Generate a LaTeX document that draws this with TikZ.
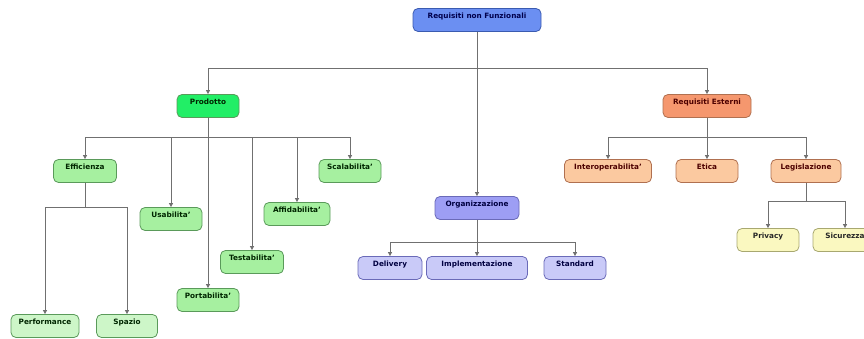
\documentclass[tikz,border=0pt]{standalone}
\usepackage{fontspec}
\setmainfont{DejaVu Sans}
\usetikzlibrary{arrows.meta}

\definecolor{linkgray}{HTML}{707070}
\definecolor{blufill}{HTML}{6B8FF2}
\definecolor{bluline}{HTML}{3B5BB0}
\definecolor{lilafill}{HTML}{9D9EF4}
\definecolor{lilalite}{HTML}{C9CAF8}
\definecolor{lilaline}{HTML}{6A6AB8}
\definecolor{verdefill}{HTML}{22EE66}
\definecolor{verdelite}{HTML}{A6F0A0}
\definecolor{verdepale}{HTML}{CDF6C8}
\definecolor{verdeline}{HTML}{5A9A5A}
\definecolor{arancfill}{HTML}{F5976E}
\definecolor{aranclite}{HTML}{FBC9A0}
\definecolor{arancline}{HTML}{B07050}
\definecolor{giallolite}{HTML}{FAF8C0}
\definecolor{gialloline}{HTML}{A8A870}

\begin{document}
\begin{tikzpicture}[x=1pt,y=-1pt,
    box/.style={draw, rounded corners=5pt, line width=0.8pt, minimum height=23pt,
        inner sep=1pt, text height=6pt, text depth=9pt,
        font=\fontsize{7.3}{9}\selectfont\bfseries},
    blu/.style={box, fill=blufill, draw=bluline, text=blue!30!black},
    lila/.style={box, fill=lilafill, draw=lilaline, text=blue!25!black},
    lilac/.style={box, fill=lilalite, draw=lilaline, text=blue!25!black},
    verde/.style={box, fill=verdefill, draw=verdeline, text=green!15!black},
    verdec/.style={box, fill=verdelite, draw=verdeline, text=green!15!black},
    verdep/.style={box, fill=verdepale, draw=verdeline, text=green!15!black},
    aranc/.style={box, fill=arancfill, draw=arancline, text=red!30!black},
    arancc/.style={box, fill=aranclite, draw=arancline, text=red!30!black},
    gialloc/.style={box, fill=giallolite, draw=gialloline, text=black!85},
    link/.style={draw=linkgray, line width=0.9pt, -{Triangle[length=4pt,width=4pt]}}]

\useasboundingbox (0,0) rectangle (864,339);
\clip (0,0) rectangle (864,339);

% radice
\node [blu, minimum width=128pt] (root) at (477,20) {Requisiti non Funzionali};

\node [verde, minimum width=62pt] (prod) at (208,106) {Prodotto};
\node [aranc, minimum width=88pt] (est) at (707,106) {Requisiti Esterni};
\node [lila, minimum width=84pt] (org) at (477,208) {Organizzazione};

% prodotto
\node [verdec, minimum width=63pt] (eff)  at (85,171)  {Efficienza};
\node [verdec, minimum width=62pt] (usa)  at (171,219) {Usabilita'};
\node [verdec, minimum width=62pt] (port) at (208,300) {Portabilita'};
\node [verdec, minimum width=63pt] (test) at (252,262) {Testabilita'};
\node [verdec, minimum width=66pt] (affi) at (297,214) {Affidabilita'};
\node [verdec, minimum width=62pt] (scal) at (350,171) {Scalabilita'};

\node [verdep, minimum width=68pt] (perf) at (45,326)  {Performance};
\node [verdep, minimum width=61pt] (spaz) at (127,326) {Spazio};

% organizzazione
\node [lilac, minimum width=64pt]  (deliv) at (390,268) {Delivery};
\node [lilac, minimum width=101pt] (impl)  at (477,268) {Implementazione};
\node [lilac, minimum width=62pt]  (std)   at (575,268) {Standard};

% requisiti esterni
\node [arancc, minimum width=87pt] (inter) at (608,171) {Interoperabilita'};
\node [arancc, minimum width=62pt] (etica) at (707,171) {Etica};
\node [arancc, minimum width=70pt] (legis) at (806,171) {Legislazione};

\node [gialloc, minimum width=62pt] (priv) at (768,240) {Privacy};
\node [gialloc, minimum width=64pt] (sic)  at (845,240) {Sicurezza};

% collegamenti
\foreach \n in {prod,est}
    \draw [link] (root.south) -- ++(0,37) -| (\n.north);
\draw [link] (root.south) -- (org.north);

\foreach \n in {eff,usa,test,affi,scal}
    \draw [link] (prod.south) -- ++(0,20) -| (\n.north);
\draw [link] (prod.south) -- (port.north);

\foreach \n in {perf,spaz}
    \draw [link] (eff.south) -- ++(0,25) -| (\n.north);

\foreach \n in {deliv,std}
    \draw [link] (org.south) -- ++(0,23) -| (\n.north);
\draw [link] (org.south) -- (impl.north);

\foreach \n in {inter,legis}
    \draw [link] (est.south) -- ++(0,20) -| (\n.north);
\draw [link] (est.south) -- (etica.north);

\foreach \n in {priv,sic}
    \draw [link] (legis.south) -- ++(0,19) -| (\n.north);

\end{tikzpicture}
\end{document}
